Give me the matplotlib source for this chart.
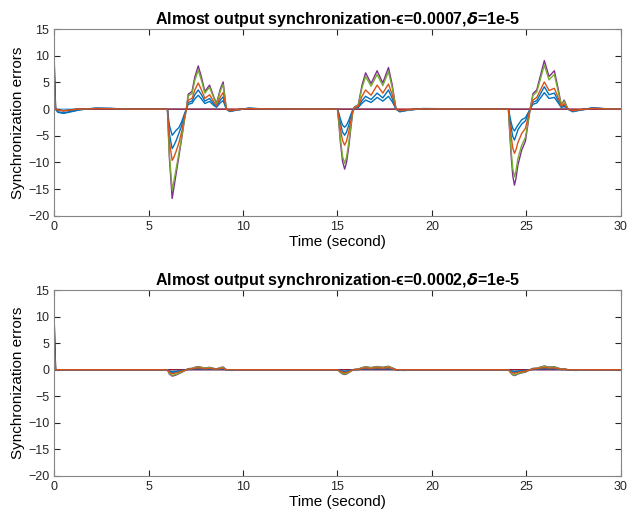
from __future__ import annotations

import matplotlib

matplotlib.use("Agg")
import matplotlib.pyplot as plt


# knot times shared by the main curves (s)
T = [
    0.0, 0.08, 0.2, 0.5, 0.9, 1.4, 2.2, 3.0, 3.8,
    6.0, 6.05, 6.1, 6.25, 6.32, 6.45, 6.6, 6.75, 6.9, 7.0,
    7.1, 7.3, 7.45, 7.63, 7.8, 7.98, 8.23, 8.45, 8.6, 8.8, 8.95, 9.05,
    9.12, 9.3, 9.7, 10.3, 11.0,
    15.0, 15.07, 15.15, 15.27, 15.38, 15.48, 15.6, 15.7, 15.8, 15.9,
    16.1, 16.3, 16.49, 16.78, 17.1, 17.4, 17.7, 17.9, 18.1, 18.3, 18.8, 19.5,
    24.05, 24.12, 24.2, 24.28, 24.37, 24.45, 24.55,
    24.75, 24.95, 25.2, 25.35, 25.55, 25.95,
    26.2, 26.48, 26.7, 26.85, 27.0, 27.2, 27.45, 27.9, 28.5, 29.3, 30.0,
]

# ---- top panel, epsilon = 0.0007 ----
TOP_PURPLE = [
    1.0, 0, -0.2, -0.3, -0.15, 0, 0.1, 0.1, 0,
    0, -4.5, -9.0, -16.75, -15.2, -12.3, -9.0, -5.6, -2.0, 0,
    2.8, 3.3, 6.0, 8.1, 6.0, 3.3, 4.5, 2.3, 1.1, 3.8, 5.1, 2.0,
    0, -0.3, -0.1, 0.1, 0.05,
    0, -2.5, -6.0, -9.8, -11.25, -10.0, -7.0, -3.8, -0.8, 0.4,
    0.8, 4.5, 6.8, 4.8, 7.2, 4.9, 7.8, 4.5, 0, -0.3, -0.1, 0.05,
    0, -4.5, -9.0, -12.5, -14.25, -13.0, -10.5,
    -7.7, -6.0, 0, 2.9, 3.6, 9.1,
    6.1, 7.2, 3.5, 0.75, 1.7, 0, -0.3, -0.1, 0.15, 0.05, 0,
]
TOP_GREEN = [
    0.8, 0, -0.2, -0.25, -0.1, 0, 0.08, 0.08, 0,
    0, -4.2, -8.3, -15.2, -13.9, -11.4, -8.4, -5.3, -1.9, 0,
    2.5, 2.9, 5.4, 7.3, 5.4, 3.0, 4.1, 2.1, 1.0, 3.4, 4.6, 1.8,
    0, -0.3, -0.1, 0.1, 0.05,
    0, -2.3, -5.4, -8.9, -10.2, -9.0, -6.3, -3.4, -0.7, 0.35,
    0.7, 4.0, 6.1, 4.3, 6.5, 4.4, 7.0, 4.0, 0, -0.3, -0.1, 0.05,
    0, -4.0, -8.0, -11.2, -12.7, -11.6, -9.3,
    -6.8, -5.3, 0, 2.6, 3.2, 8.25,
    5.5, 6.5, 3.1, 0.7, 1.5, 0, -0.3, -0.1, 0.12, 0.05, 0,
]
TOP_ORANGE = [
    5.0, 0, -0.2, -0.3, -0.15, 0, 0.1, 0.08, 0,
    0, -3.0, -6.0, -9.6, -9.2, -8.0, -6.4, -4.3, -1.6, 0,
    1.7, 2.0, 3.6, 4.9, 3.6, 2.0, 2.7, 1.4, 0.65, 2.3, 3.1, 1.2,
    0, -0.3, -0.1, 0.1, 0.05,
    0, -1.5, -3.6, -5.9, -6.75, -6.0, -4.2, -2.3, -0.5, 0.3,
    0.5, 2.4, 3.6, 2.6, 4.5, 3.0, 4.7, 2.7, 0, -0.3, -0.1, 0.05,
    0, -2.6, -5.2, -7.3, -8.3, -7.6, -6.3,
    -4.6, -3.6, 0, 1.7, 2.2, 5.1,
    3.5, 3.9, 2.0, 0.5, 1.0, 0, -0.3, -0.1, 0.12, 0.05, 0,
]
TOP_BLUE_A = [
    9.0, 0, -0.6, -0.8, -0.5, -0.1, 0.2, 0.15, 0,
    0, -2.4, -4.6, -7.4, -7.0, -6.0, -4.6, -3.1, -1.2, 0,
    1.25, 1.5, 2.7, 3.6, 2.7, 1.5, 2.0, 1.0, 0.5, 1.7, 2.3, 0.9,
    0, -0.45, -0.15, 0.2, 0.05,
    0, -1.1, -2.6, -4.3, -4.9, -4.3, -3.0, -1.6, -0.35, 0.25,
    0.4, 1.6, 2.4, 1.8, 3.0, 2.1, 3.6, 2.0, 0, -0.5, -0.15, 0.1,
    0, -1.8, -3.6, -5.1, -5.8, -5.0, -3.9,
    -2.8, -2.2, 0, 1.3, 1.6, 4.2,
    2.7, 3.0, 1.5, 0.4, 0.7, 0, -0.5, -0.15, 0.25, 0.05, 0,
]
TOP_BLUE_B = [
    3.0, 0, -0.5, -0.7, -0.4, -0.1, 0.15, 0.1, 0,
    0, -1.6, -3.0, -4.9, -4.6, -4.0, -3.5, -2.4, -0.9, 0,
    0.9, 1.1, 1.9, 2.6, 1.9, 1.05, 1.45, 0.7, 0.35, 1.2, 1.6, 0.6,
    0, -0.4, -0.15, 0.15, 0.05,
    0, -0.75, -1.8, -3.0, -3.4, -3.0, -2.1, -1.1, -0.25, 0.2,
    0.3, 1.1, 1.7, 1.25, 2.2, 1.5, 2.4, 1.4, 0, -0.45, -0.15, 0.1,
    0, -1.3, -2.6, -3.6, -4.1, -3.6, -3.0,
    -2.0, -1.6, 0, 0.9, 1.15, 3.1,
    2.0, 2.2, 1.1, 0.3, 0.5, 0, -0.4, -0.15, 0.2, 0.05, 0,
]

# ---- bottom panel, epsilon = 0.0002 ----
BOT_PURPLE = [
    1.0, 0, 0, 0, 0, 0, 0, 0, 0,
    0, -0.4, -0.8, -1.2, -1.15, -1.0, -0.75, -0.5, -0.2, 0,
    0.2, 0.25, 0.45, 0.6, 0.45, 0.3, 0.45, 0.25, 0.15, 0.4, 0.5, 0.2,
    0, -0.03, 0, 0, 0,
    0, -0.2, -0.5, -0.8, -0.9, -0.8, -0.55, -0.3, -0.1, 0.05,
    0.1, 0.4, 0.55, 0.4, 0.6, 0.45, 0.65, 0.35, 0, -0.03, 0, 0,
    0, -0.35, -0.7, -0.98, -1.1, -1.0, -0.8,
    -0.6, -0.45, 0, 0.25, 0.3, 0.7,
    0.5, 0.55, 0.3, 0.1, 0.15, 0, -0.03, 0, 0, 0, 0,
]
BOT_GREEN = [
    0.8, 0, 0, 0, 0, 0, 0, 0, 0,
    0, -0.35, -0.7, -1.05, -1.0, -0.9, -0.68, -0.45, -0.18, 0,
    0.18, 0.22, 0.4, 0.55, 0.4, 0.27, 0.4, 0.22, 0.13, 0.36, 0.45, 0.18,
    0, -0.03, 0, 0, 0,
    0, -0.18, -0.45, -0.72, -0.8, -0.72, -0.5, -0.27, -0.09, 0.05,
    0.09, 0.36, 0.5, 0.36, 0.55, 0.4, 0.58, 0.32, 0, -0.03, 0, 0,
    0, -0.32, -0.63, -0.88, -1.0, -0.9, -0.72,
    -0.54, -0.4, 0, 0.22, 0.27, 0.63,
    0.45, 0.5, 0.27, 0.09, 0.13, 0, -0.03, 0, 0, 0, 0,
]
BOT_ORANGE = [
    5.0, 0, 0, 0, 0, 0, 0, 0, 0,
    0, -0.25, -0.5, -0.75, -0.7, -0.6, -0.45, -0.3, -0.12, 0,
    0.12, 0.15, 0.27, 0.36, 0.27, 0.18, 0.27, 0.15, 0.09, 0.24, 0.3, 0.12,
    0, -0.02, 0, 0, 0,
    0, -0.12, -0.3, -0.48, -0.55, -0.48, -0.33, -0.18, -0.06, 0.03,
    0.06, 0.24, 0.33, 0.24, 0.36, 0.27, 0.4, 0.21, 0, -0.02, 0, 0,
    0, -0.21, -0.42, -0.59, -0.66, -0.6, -0.48,
    -0.36, -0.27, 0, 0.15, 0.18, 0.42,
    0.3, 0.33, 0.18, 0.06, 0.09, 0, -0.02, 0, 0, 0, 0,
]
BOT_BLUE_A = [
    9.5, 0, 0, 0, 0, 0, 0, 0, 0,
    0, -0.19, -0.38, -0.55, -0.52, -0.45, -0.33, -0.22, -0.09, 0,
    0.09, 0.11, 0.2, 0.28, 0.2, 0.14, 0.2, 0.11, 0.07, 0.18, 0.23, 0.09,
    0, -0.05, 0, 0, 0,
    0, -0.09, -0.23, -0.37, -0.42, -0.37, -0.25, -0.14, -0.05, 0.02,
    0.05, 0.18, 0.25, 0.18, 0.28, 0.2, 0.3, 0.16, 0, -0.05, 0, 0,
    0, -0.16, -0.32, -0.45, -0.5, -0.45, -0.36,
    -0.27, -0.2, 0, 0.11, 0.14, 0.32,
    0.23, 0.25, 0.14, 0.05, 0.07, 0, -0.05, 0, 0, 0, 0,
]
BOT_BLUE_B = [
    3.0, 0, 0, 0, 0, 0, 0, 0, 0,
    0, -0.12, -0.25, -0.38, -0.36, -0.3, -0.22, -0.15, -0.06, 0,
    0.06, 0.08, 0.14, 0.19, 0.14, 0.09, 0.14, 0.08, 0.05, 0.12, 0.15, 0.06,
    0, -0.04, 0, 0, 0,
    0, -0.06, -0.15, -0.25, -0.28, -0.25, -0.17, -0.09, -0.03, 0.02,
    0.03, 0.12, 0.17, 0.12, 0.19, 0.14, 0.2, 0.11, 0, -0.04, 0, 0,
    0, -0.1, -0.21, -0.29, -0.33, -0.3, -0.24,
    -0.18, -0.14, 0, 0.08, 0.09, 0.21,
    0.15, 0.17, 0.09, 0.03, 0.05, 0, -0.04, 0, 0, 0, 0,
]

# flat curves, given on their own knots
RED_T = [0.0, 0.08, 0.5, 1.2, 30.0]
TOP_RED = [10.0, 0, -0.3, 0, 0]
BOT_RED = [10.0, 0, 0, 0, 0]

LB_T = [0.0, 0.1, 9.1, 9.4, 10.0, 18.1, 18.5, 19.3, 27.2, 27.6, 28.3, 30.0]
TOP_LB = [0.5, 0, 0, -0.3, 0, 0, -0.3, 0, 0, -0.3, 0, 0]
BOT_LB = [0.5, 0, 0, -0.15, 0, 0, -0.15, 0, 0, -0.15, 0, 0]

EPS = ["0.0007", "0.0002"]
X_TICKS = [0, 5, 10, 15, 20, 25, 30]
Y_TICKS = [-20, -15, -10, -5, 0, 5, 10, 15]

BLUE = "#0072BD"
ORANGE = "#D95319"
PURPLE = "#7E2F8E"
GREEN = "#77AC30"
LIGHTBLUE = "#4DBEEE"
DARKRED = "#A2142F"


def _style():
    plt.rcParams.update(
        {
            "font.family": ["Liberation Sans", "DejaVu Sans"],
            "mathtext.fontset": "dejavusans",
            "font.size": 9,
            "axes.linewidth": 0.8,
            "axes.edgecolor": "#858585",
            "xtick.direction": "in",
            "ytick.direction": "in",
            "xtick.color": "#262626",
            "ytick.color": "#262626",
            "xtick.top": True,
            "ytick.right": True,
            "xtick.major.size": 4,
            "ytick.major.size": 4,
        }
    )


def draw_panel(ax, eps, purple, green, orange, blue_a, blue_b, red, lb):
    lw = 1.0
    ax.plot(T, blue_a, color=BLUE, lw=lw)
    ax.plot(T, purple, color=PURPLE, lw=lw)
    ax.plot(T, green, color=GREEN, lw=lw)
    ax.plot(LB_T, lb, color=LIGHTBLUE, lw=lw)
    ax.plot(RED_T, red, color=DARKRED, lw=lw)
    ax.plot(T, blue_b, color=BLUE, lw=lw)
    ax.plot(T, orange, color=ORANGE, lw=lw)
    ax.set_xlim(0, 30)
    ax.set_ylim(-20, 15)
    ax.set_xticks(X_TICKS)
    ax.set_yticks(Y_TICKS)
    ax.set_xlabel("Time (second)", fontsize=11, labelpad=2)
    ax.set_ylabel("Synchronization errors", fontsize=11, labelpad=2)
    ax.set_title(
        "Almost output synchronization-\u03f5=" + eps + ",$\\boldsymbol{\\delta}$=1e-5",
        fontsize=11.5,
        fontweight="bold",
        pad=4,
    )


def main():
    _style()
    fig = plt.figure(figsize=(6.29, 5.20), dpi=100)
    ax1 = fig.add_axes([0.086, 0.585, 0.901, 0.359])
    ax2 = fig.add_axes([0.086, 0.085, 0.901, 0.357])
    draw_panel(ax1, EPS[0], TOP_PURPLE, TOP_GREEN, TOP_ORANGE, TOP_BLUE_A, TOP_BLUE_B, TOP_RED, TOP_LB)
    draw_panel(ax2, EPS[1], BOT_PURPLE, BOT_GREEN, BOT_ORANGE, BOT_BLUE_A, BOT_BLUE_B, BOT_RED, BOT_LB)
    fig.savefig("out.png", dpi=100)
    plt.close(fig)
    return 0


if __name__ == "__main__":
    raise SystemExit(main())
